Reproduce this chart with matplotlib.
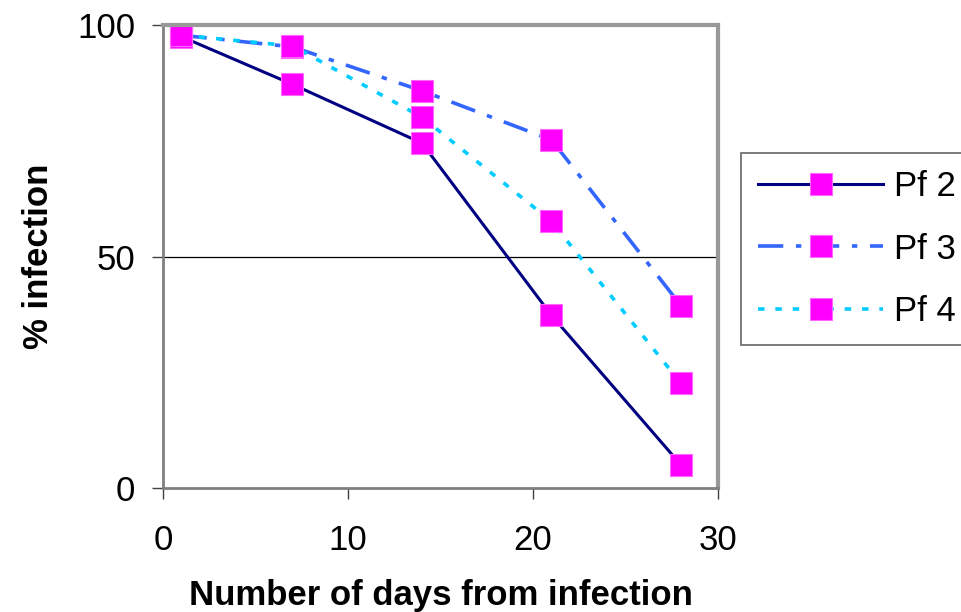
import matplotlib.pyplot as plt

plt.rcParams['font.family'] = ['Liberation Sans', 'DejaVu Sans']

# days after infection and % infection for each isolate
days = [1, 7, 14, 21, 28]
pf2 = [97.5, 87.2, 74.5, 37.3, 5.0]
pf3 = [97.8, 95.3, 85.8, 75.2, 39.4]
pf4 = [97.8, 95.5, 80.1, 57.6, 22.6]
labels = ['Pf 2', 'Pf 3', 'Pf 4']

fig = plt.figure(figsize=(9.61, 6.12), dpi=100)
ax = fig.add_axes([0.1696, 0.2026, 0.5775, 0.7564])

mk = dict(marker='s', markersize=16, markerfacecolor='#FF00FF',
          markeredgecolor='#FF66FF', markeredgewidth=0.8)
ax.plot(days, pf2, color='#000080', lw=2.2, ls='-', label=labels[0], **mk)
ax.plot(days, pf3, color='#3366FF', lw=2.6, ls=(0, (7, 3.5, 1.5, 3.5)), label=labels[1], **mk)
ax.plot(days, pf4, color='#00CCFF', lw=2.6, ls=(0, (1.8, 3)), label=labels[2], **mk)

ax.set_xlim(0, 30)
ax.set_ylim(0, 100)
ax.set_xticks([0, 10, 20, 30])
ax.set_yticks([0, 50, 100])
ax.axhline(50, color='black', lw=0.9, zorder=0)

for s in ['left', 'bottom']:
    ax.spines[s].set_color('#808080')
    ax.spines[s].set_linewidth(2)
for s in ['top', 'right']:
    ax.spines[s].set_color('#999999')
    ax.spines[s].set_linewidth(3)

ax.tick_params(direction='out', length=8, width=1, color='#404040', labelsize=25)
ax.tick_params(axis='x', pad=18)
ax.tick_params(axis='y', pad=12)

ax.set_xlabel('Number of days from infection', fontsize=25, fontweight='bold', labelpad=16)
ax.set_ylabel('% infection', fontsize=25, fontweight='bold', labelpad=16)

leg = fig.legend(loc='upper left', bbox_to_anchor=(741 / 961, 1 - 153 / 612),
                 fontsize=25, handlelength=3.6, labelspacing=0.84,
                 fancybox=False, borderpad=0.5, handletextpad=0.3,
                 borderaxespad=0)
leg.get_frame().set_edgecolor('#404040')
leg.get_frame().set_linewidth(1.2)

fig.savefig('out.png', dpi=100)
